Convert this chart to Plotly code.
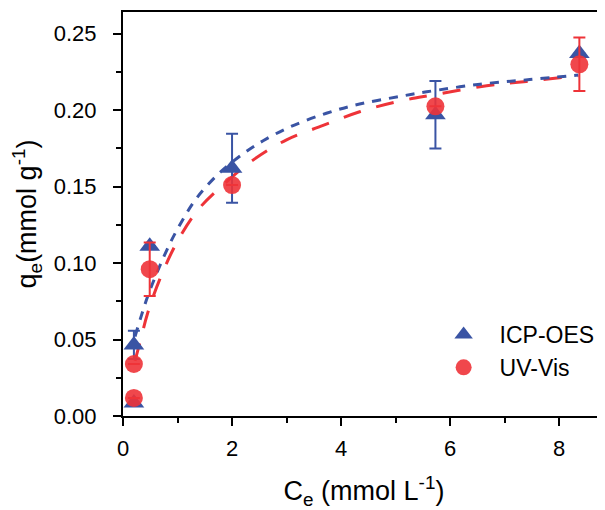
import plotly.graph_objects as go

# measured points
icp_x = [0.2, 0.2, 0.49, 2.0, 5.73, 8.37]
icp_y = [0.0085, 0.0465, 0.111, 0.162, 0.197, 0.237]
icp_err = [0, 0.0093, 0, 0.0225, 0.022, 0]

uv_x = [0.2, 0.2, 0.49, 2.0, 5.73, 8.37]
uv_y = [0.0118, 0.034, 0.096, 0.151, 0.2025, 0.230]
uv_err = [0, 0, 0.0175, 0, 0, 0.0175]

# fitted curves
icp_fit_x = [0.22, 0.34, 0.45, 0.58, 0.81, 0.98, 1.28, 1.5, 1.77, 2.0, 2.26, 2.57,
             3.06, 3.73, 4.34, 5.08, 5.57, 6.55, 7.46, 8.35]
icp_fit_y = [0.052, 0.066, 0.078, 0.090, 0.109, 0.121, 0.139, 0.149, 0.159, 0.166,
             0.173, 0.180, 0.189, 0.198, 0.204, 0.209, 0.212, 0.217, 0.220, 0.223]

uv_fit_x = [0.22, 0.31, 0.45, 0.67, 0.98, 1.38, 1.8, 2.39, 3.0, 3.67, 4.34, 5.02,
            5.69, 6.67, 7.4, 8.35]
uv_fit_y = [0.036, 0.048, 0.067, 0.089, 0.113, 0.135, 0.150, 0.1675, 0.1806, 0.190,
            0.199, 0.2055, 0.210, 0.216, 0.2188, 0.2225]

blue = "#3A54A4"
red = "#EE3338"
font = "Arial, Liberation Sans, sans-serif"

fig = go.Figure()
fig.add_trace(go.Scatter(x=uv_fit_x, y=uv_fit_y, mode="lines", showlegend=False,
                         line=dict(color=red, width=3, dash="18px,16px", shape="spline")))
fig.add_trace(go.Scatter(x=icp_fit_x, y=icp_fit_y, mode="lines", showlegend=False,
                         line=dict(color=blue, width=3, dash="9px,8px", shape="spline")))
fig.add_trace(go.Scatter(x=icp_x, y=icp_y, mode="markers", name="ICP-OES",
                         marker=dict(symbol="triangle-up", size=18, color=blue),
                         error_y=dict(type="data", array=icp_err, color=blue,
                                      thickness=2, width=6)))
fig.add_trace(go.Scatter(x=uv_x, y=uv_y, mode="markers", name="UV-Vis",
                         marker=dict(symbol="circle", size=18, color=red, opacity=0.9),
                         error_y=dict(type="data", array=uv_err, color=red,
                                      thickness=2, width=6)))

axis_common = dict(
    showline=True, linecolor="black", linewidth=2, automargin=False,
    ticks="outside", ticklen=8, tickwidth=2, tickcolor="black",
    showgrid=False, zeroline=False,
    tickfont=dict(family=font, size=22, color="black"),
)

fig.update_xaxes(
    range=[0, 8.84], tick0=0, dtick=2, mirror=True, ticklabelstandoff=4,
    minor=dict(ticks="outside", ticklen=5, tickwidth=1.5, tickcolor="black", dtick=1),
    title=dict(text="C<sub>e</sub> (mmol L<sup>-1</sup>)", standoff=30,
               font=dict(family=font, size=27, color="black")),
    **axis_common,
)
fig.update_yaxes(
    range=[0, 0.2642], tick0=0, dtick=0.05, tickformat=".2f", ticklabelstandoff=12,
    minor=dict(ticks="outside", ticklen=5, tickwidth=1.5, tickcolor="black", dtick=0.025),
    title=dict(text="q<sub>e</sub>(mmol g<sup>-1</sup>)", standoff=10,
               font=dict(family=font, size=27, color="black")),
    **axis_common,
)

# the page body adds an 8px offset, so margins are trimmed to match
fig.update_layout(
    width=597, height=502,
    margin=dict(l=115, r=0, t=4, b=94),
    plot_bgcolor="white", paper_bgcolor="white",
    legend=dict(x=0.632, y=0.255, xanchor="left", yanchor="top", itemwidth=62,
                font=dict(family=font, size=23, color="black"),
                bgcolor="rgba(0,0,0,0)"),
)

fig.write_html("out.html")
